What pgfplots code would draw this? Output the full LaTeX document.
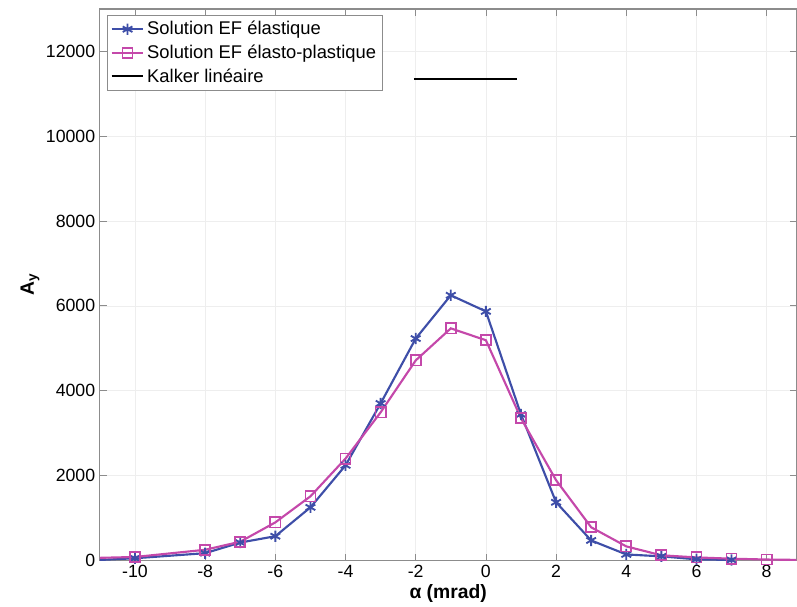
\documentclass[border=0pt]{standalone}
\usepackage{pgfplots}
\pgfplotsset{compat=1.18}
\usepackage{fontspec}
\setmainfont{Liberation Sans}
\definecolor{cblue}{RGB}{62,78,168}
\definecolor{cpink}{RGB}{196,72,170}
\definecolor{cgrid}{RGB}{238,238,238}
\definecolor{caxis}{RGB}{140,140,140}
\begin{document}
\begin{tikzpicture}
\begin{axis}[
  scale only axis,
  width=523pt, height=414pt,
  xmin=-11, xmax=8.85,
  ymin=0, ymax=13000,
  xtick={-10,-8,...,8},
  ytick={0,2000,...,12000},
  /pgf/number format/assume math mode=true,
  scaled y ticks=false,
  yticklabel style={/pgf/number format/.cd, fixed, 1000 sep={}},
  ticklabel style={font=\fontsize{13.3}{15}\selectfont},
  tick align=inside,
  major tick length=5pt,
  tick style={caxis, line width=0.6pt},
  axis line style={caxis, line width=0.8pt},
  grid=major,
  major grid style={cgrid, line width=0.5pt},
  xlabel={\textbf{α (mrad)}},
  ylabel={\textbf{A\textsubscript{y}}},
  label style={font=\fontsize{14.5}{16}\selectfont},
  xlabel style={yshift=2pt},
  ylabel style={yshift=-2pt},
  legend style={at={(rel axis cs:0.01,0.989)}, anchor=north west,
    draw=caxis, line width=0.6pt, font=\fontsize{13.8}{17}\selectfont,
    inner sep=2.5pt, row sep=2pt},
  legend image code/.code={%
    \draw[mark repeat=2,mark phase=2,#1] plot coordinates {(0cm,0cm) (0.42cm,0cm) (0.84cm,0cm)};},
  legend cell align=left,
]
\addplot[cblue, line width=1.6pt, mark=asterisk, mark size=4.2pt, mark options={line width=1.4pt}]
coordinates {(-12,-30) (-10,50) (-8,170) (-7,420) (-6,570) (-5,1250) (-4,2240) (-3,3700) (-2,5230) (-1,6250) (0,5870) (1,3440) (2,1370) (3,470) (4,140) (5,95) (6,25) (7,10)};
\addlegendentry{Solution EF élastique}
\addplot[cpink, line width=1.6pt, mark=square, mark size=3.8pt, mark options={line width=1.3pt}]
coordinates {(-12,40) (-10,80) (-8,250) (-7,440) (-6,896) (-5,1510) (-4,2400) (-3,3490) (-2,4715) (-1,5470) (0,5190) (1,3350) (2,1890) (3,780) (4,330) (5,120) (6,70) (7,40) (8,20) (10,0)};
\addlegendentry{Solution EF élasto-plastique}
\addplot[black, line width=1.6pt] coordinates {(-2.05,11340) (0.9,11340)};
\addlegendentry{Kalker linéaire}
\end{axis}
\path ([yshift=6.75pt]current axis.north east);
\path ([xshift=-75pt]current axis.west);
\end{tikzpicture}
\end{document}
